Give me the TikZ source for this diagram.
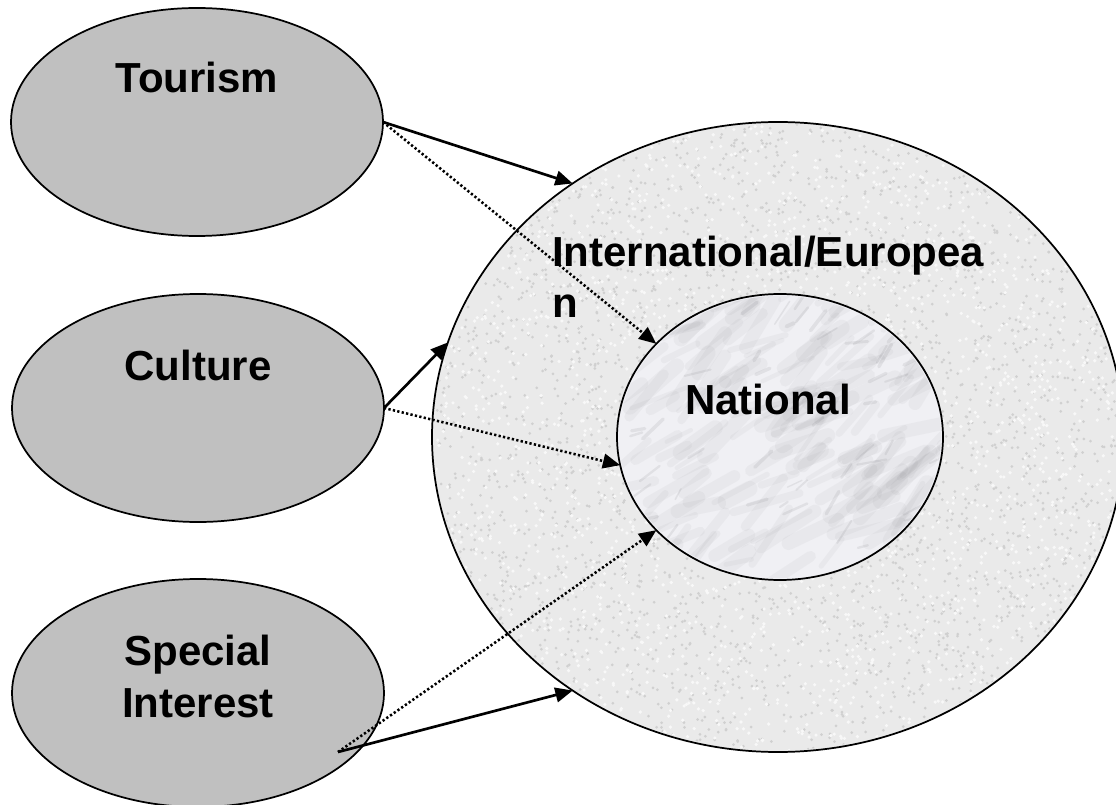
\documentclass[tikz,border=0pt]{standalone}
\usepackage{fontspec}
\setmainfont{Liberation Sans}
\usetikzlibrary{shapes.geometric,arrows.meta}
\definecolor{srcgray}{RGB}{192,192,192}
\definecolor{granite}{RGB}{234,234,234}
\definecolor{speckdark}{RGB}{208,208,208}
\definecolor{specklight}{RGB}{248,248,248}
\definecolor{marble}{RGB}{240,240,244}
\definecolor{vein}{RGB}{110,110,116}
\begin{document}
\begin{tikzpicture}[x=0.75pt,y=-0.75pt,
  srcell/.style={ellipse, draw=black, line width=1.3pt, fill=srcgray, inner sep=0pt, outer sep=0pt, minimum width=279pt, minimum height=171pt},
  lbl/.style={font=\fontsize{31.5}{37.5}\selectfont\bfseries, inner sep=0pt, anchor=base},
  solidarrow/.style={-{Triangle[length=13pt,width=11pt]}, line width=2pt},
  dotarrow/.style={-{Triangle[length=13pt,width=11pt]}, line width=1.9pt, dash pattern=on 1.7pt off 1.7pt},
]
\useasboundingbox (0,0) rectangle (1116,805);
\fill[white] (0,0) rectangle (1116,805);
\pgfmathsetseed{7}

% outer region
\node[ellipse, draw=black, line width=1.3pt, fill=granite, inner sep=0pt, outer sep=0pt,
      minimum width=519pt, minimum height=472.5pt] (big) at (778,437) {};
\begin{scope}
  \clip (778,437) ellipse [x radius=344, y radius=313];
  \foreach \i in {1,...,3600}{
    \pgfmathsetmacro\px{778+346*rand}
    \pgfmathsetmacro\py{437+315*rand}
    \fill[speckdark] (\px,\py) circle [radius=1.5];
  }
  \foreach \i in {1,...,2600}{
    \pgfmathsetmacro\px{778+346*rand}
    \pgfmathsetmacro\py{437+315*rand}
    \fill[specklight] (\px,\py) circle [radius=1.8];
  }
\end{scope}

% inner region
\node[ellipse, draw=black, line width=1.3pt, fill=marble, inner sep=0pt, outer sep=0pt,
      minimum width=244.5pt, minimum height=214.5pt] (nat) at (780,437) {};
\begin{scope}
  \clip (780,437) ellipse [x radius=161, y radius=141];
  \foreach \i in {1,...,220}{
    \pgfmathsetmacro\mx{780+175*rand}
    \pgfmathsetmacro\my{437+155*rand}
    \pgfmathsetmacro\ma{-35+25*rand}
    \pgfmathsetmacro\ml{25+50*rnd}
    \pgfmathsetmacro\mw{3+9*rnd}
    \draw[vein, line width=\mw pt, opacity=0.055, line cap=round] (\mx,\my) -- ++(\ma:\ml);
  }
  \foreach \i in {1,...,70}{
    \pgfmathsetmacro\mx{780+175*rand}
    \pgfmathsetmacro\my{437+155*rand}
    \pgfmathsetmacro\ma{-35+30*rand}
    \pgfmathsetmacro\ml{8+22*rnd}
    \pgfmathsetmacro\mw{1+2*rnd}
    \draw[vein, line width=\mw pt, opacity=0.12, line cap=round] (\mx,\my) -- ++(\ma:\ml);
  }
\end{scope}

% source ellipses
\node[srcell] (tour) at (197,122) {};
\node[srcell] (cult) at (198,408) {};
\node[srcell] (spec) at (198,693) {};
\coordinate (sp) at (338,752);

% labels
\node[lbl] (tourlbl) at (197,93) {Tourism};
\node[lbl] (cultlbl) at (198,380) {Culture};
\node[lbl] (speclbl) at (198,665) {Special};
\node[lbl] (intlbl) at (198,717) {Interest};
\node[lbl, anchor=base west] (eulbl1) at (552,267) {International/Europea};
\node[lbl, anchor=base west] (eulbl2) at (552,317) {n};
\node[lbl] (natlbl) at (768,414) {National};

% connectors
\draw[solidarrow] (tour.east) -- (big.129);
\draw[dotarrow] (tour.east) -- (nat.143);
\draw[solidarrow] (cult.east) -- (big.164);
\draw[dotarrow] (cult.east) -- (nat.190);
\draw[solidarrow] (sp) -- (big.231);
\draw[dotarrow] (sp) -- (nat.217);
\end{tikzpicture}
\end{document}
